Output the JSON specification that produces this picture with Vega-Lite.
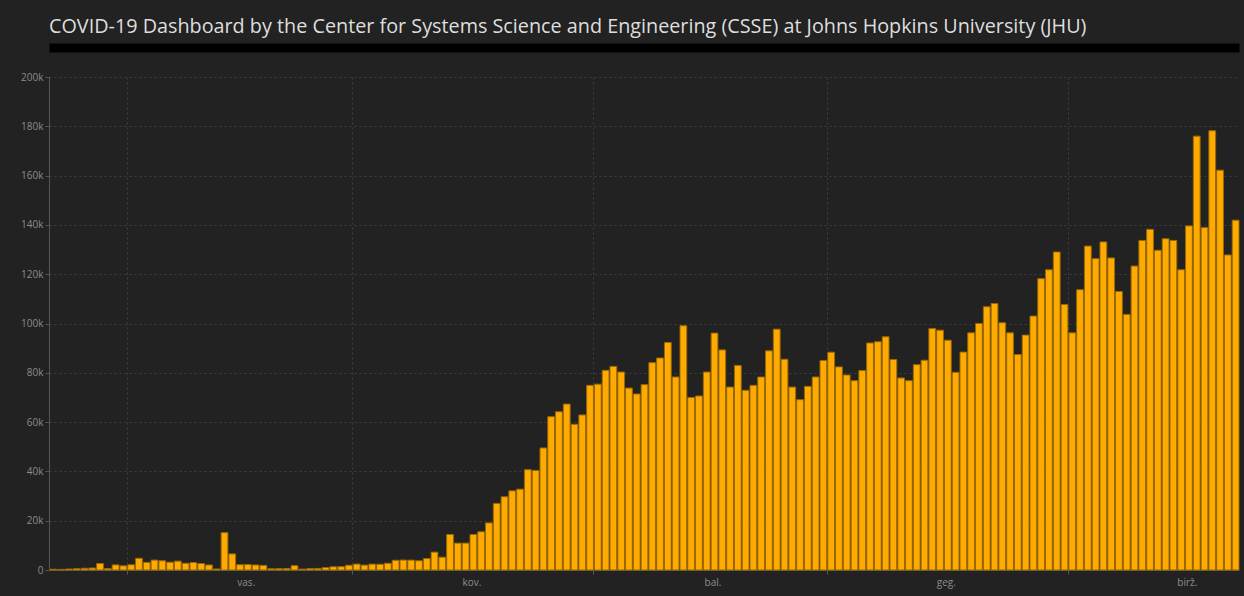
{
  "$schema": "https://vega.github.io/schema/vega-lite/v6.json",
  "width": 1190,
  "height": 493,
  "autosize": {"type": "none"},
  "padding": {"left": 49, "top": 77, "right": 5, "bottom": 26},
  "background": "#222222",
  "config": {"view": {"stroke": null}},
  "title": {
    "text": "COVID-19 Dashboard by the Center for Systems Science and Engineering (CSSE) at Johns Hopkins University (JHU)",
    "anchor": "start",
    "frame": "group",
    "font": "Open Sans",
    "fontSize": 19.8,
    "fontWeight": "normal",
    "color": "#dedede",
    "offset": 11
  },
  "data": {
    "values": [
      {"date": "2020-01-22", "cases": 300},
      {"date": "2020-01-23", "cases": 250},
      {"date": "2020-01-24", "cases": 400},
      {"date": "2020-01-25", "cases": 550},
      {"date": "2020-01-26", "cases": 700},
      {"date": "2020-01-27", "cases": 810},
      {"date": "2020-01-28", "cases": 2651},
      {"date": "2020-01-29", "cases": 600},
      {"date": "2020-01-30", "cases": 2068},
      {"date": "2020-01-31", "cases": 1693},
      {"date": "2020-02-01", "cases": 2111},
      {"date": "2020-02-02", "cases": 4749},
      {"date": "2020-02-03", "cases": 3094},
      {"date": "2020-02-04", "cases": 4011},
      {"date": "2020-02-05", "cases": 3743},
      {"date": "2020-02-06", "cases": 3159},
      {"date": "2020-02-07", "cases": 3597},
      {"date": "2020-02-08", "cases": 2729},
      {"date": "2020-02-09", "cases": 3030},
      {"date": "2020-02-10", "cases": 2612},
      {"date": "2020-02-11", "cases": 2040},
      {"date": "2020-02-12", "cases": 419},
      {"date": "2020-02-13", "cases": 15152},
      {"date": "2020-02-14", "cases": 6517},
      {"date": "2020-02-15", "cases": 2145},
      {"date": "2020-02-16", "cases": 2194},
      {"date": "2020-02-17", "cases": 2034},
      {"date": "2020-02-18", "cases": 1878},
      {"date": "2020-02-19", "cases": 503},
      {"date": "2020-02-20", "cases": 558},
      {"date": "2020-02-21", "cases": 621},
      {"date": "2020-02-22", "cases": 1752},
      {"date": "2020-02-23", "cases": 365},
      {"date": "2020-02-24", "cases": 570},
      {"date": "2020-02-25", "cases": 636},
      {"date": "2020-02-26", "cases": 1006},
      {"date": "2020-02-27", "cases": 1300},
      {"date": "2020-02-28", "cases": 1340},
      {"date": "2020-02-29", "cases": 1927},
      {"date": "2020-03-01", "cases": 2397},
      {"date": "2020-03-02", "cases": 1984},
      {"date": "2020-03-03", "cases": 2374},
      {"date": "2020-03-04", "cases": 2327},
      {"date": "2020-03-05", "cases": 2736},
      {"date": "2020-03-06", "cases": 3947},
      {"date": "2020-03-07", "cases": 4027},
      {"date": "2020-03-08", "cases": 3995},
      {"date": "2020-03-09", "cases": 3738},
      {"date": "2020-03-10", "cases": 4658},
      {"date": "2020-03-11", "cases": 7242},
      {"date": "2020-03-12", "cases": 5200},
      {"date": "2020-03-13", "cases": 14400},
      {"date": "2020-03-14", "cases": 10900},
      {"date": "2020-03-15", "cases": 10900},
      {"date": "2020-03-16", "cases": 14400},
      {"date": "2020-03-17", "cases": 15500},
      {"date": "2020-03-18", "cases": 19100},
      {"date": "2020-03-19", "cases": 27000},
      {"date": "2020-03-20", "cases": 29700},
      {"date": "2020-03-21", "cases": 32100},
      {"date": "2020-03-22", "cases": 32800},
      {"date": "2020-03-23", "cases": 40700},
      {"date": "2020-03-24", "cases": 40400},
      {"date": "2020-03-25", "cases": 49500},
      {"date": "2020-03-26", "cases": 62200},
      {"date": "2020-03-27", "cases": 64200},
      {"date": "2020-03-28", "cases": 67300},
      {"date": "2020-03-29", "cases": 59100},
      {"date": "2020-03-30", "cases": 62900},
      {"date": "2020-03-31", "cases": 74900},
      {"date": "2020-04-01", "cases": 75400},
      {"date": "2020-04-02", "cases": 81000},
      {"date": "2020-04-03", "cases": 82600},
      {"date": "2020-04-04", "cases": 80300},
      {"date": "2020-04-05", "cases": 73800},
      {"date": "2020-04-06", "cases": 71400},
      {"date": "2020-04-07", "cases": 75200},
      {"date": "2020-04-08", "cases": 84100},
      {"date": "2020-04-09", "cases": 86000},
      {"date": "2020-04-10", "cases": 92300},
      {"date": "2020-04-11", "cases": 78300},
      {"date": "2020-04-12", "cases": 99100},
      {"date": "2020-04-13", "cases": 70000},
      {"date": "2020-04-14", "cases": 70600},
      {"date": "2020-04-15", "cases": 80300},
      {"date": "2020-04-16", "cases": 96100},
      {"date": "2020-04-17", "cases": 89300},
      {"date": "2020-04-18", "cases": 74200},
      {"date": "2020-04-19", "cases": 83000},
      {"date": "2020-04-20", "cases": 72900},
      {"date": "2020-04-21", "cases": 74900},
      {"date": "2020-04-22", "cases": 78300},
      {"date": "2020-04-23", "cases": 88900},
      {"date": "2020-04-24", "cases": 97700},
      {"date": "2020-04-25", "cases": 85500},
      {"date": "2020-04-26", "cases": 74200},
      {"date": "2020-04-27", "cases": 69100},
      {"date": "2020-04-28", "cases": 74500},
      {"date": "2020-04-29", "cases": 78300},
      {"date": "2020-04-30", "cases": 85000},
      {"date": "2020-05-01", "cases": 88350},
      {"date": "2020-05-02", "cases": 82400},
      {"date": "2020-05-03", "cases": 79100},
      {"date": "2020-05-04", "cases": 76800},
      {"date": "2020-05-05", "cases": 80900},
      {"date": "2020-05-06", "cases": 92100},
      {"date": "2020-05-07", "cases": 92600},
      {"date": "2020-05-08", "cases": 94600},
      {"date": "2020-05-09", "cases": 85400},
      {"date": "2020-05-10", "cases": 77900},
      {"date": "2020-05-11", "cases": 76800},
      {"date": "2020-05-12", "cases": 83300},
      {"date": "2020-05-13", "cases": 85100},
      {"date": "2020-05-14", "cases": 98000},
      {"date": "2020-05-15", "cases": 97300},
      {"date": "2020-05-16", "cases": 93200},
      {"date": "2020-05-17", "cases": 80200},
      {"date": "2020-05-18", "cases": 88400},
      {"date": "2020-05-19", "cases": 96200},
      {"date": "2020-05-20", "cases": 100000},
      {"date": "2020-05-21", "cases": 106800},
      {"date": "2020-05-22", "cases": 108100},
      {"date": "2020-05-23", "cases": 100300},
      {"date": "2020-05-24", "cases": 96200},
      {"date": "2020-05-25", "cases": 87400},
      {"date": "2020-05-26", "cases": 95300},
      {"date": "2020-05-27", "cases": 103000},
      {"date": "2020-05-28", "cases": 118200},
      {"date": "2020-05-29", "cases": 121800},
      {"date": "2020-05-30", "cases": 129000},
      {"date": "2020-05-31", "cases": 107700},
      {"date": "2020-06-01", "cases": 96200},
      {"date": "2020-06-02", "cases": 113700},
      {"date": "2020-06-03", "cases": 131400},
      {"date": "2020-06-04", "cases": 126300},
      {"date": "2020-06-05", "cases": 133100},
      {"date": "2020-06-06", "cases": 126600},
      {"date": "2020-06-07", "cases": 113000},
      {"date": "2020-06-08", "cases": 103700},
      {"date": "2020-06-09", "cases": 123300},
      {"date": "2020-06-10", "cases": 133700},
      {"date": "2020-06-11", "cases": 138200},
      {"date": "2020-06-12", "cases": 129700},
      {"date": "2020-06-13", "cases": 134400},
      {"date": "2020-06-14", "cases": 133700},
      {"date": "2020-06-15", "cases": 121800},
      {"date": "2020-06-16", "cases": 139600},
      {"date": "2020-06-17", "cases": 176000},
      {"date": "2020-06-18", "cases": 138900},
      {"date": "2020-06-19", "cases": 178200},
      {"date": "2020-06-20", "cases": 162200},
      {"date": "2020-06-21", "cases": 127800},
      {"date": "2020-06-22", "cases": 141900}
    ]
  },
  "layer": [
    {
      "mark": {"type": "bar", "fill": "#ffaa00", "stroke": "#9a6a00", "strokeWidth": 1},
      "encoding": {
        "x": {
          "field": "date",
          "timeUnit": "utcyearmonthdate",
          "type": "temporal",
          "scale": {
            "domain": [
              {"year": 2020, "month": 1, "date": 22, "utc": true},
              {"year": 2020, "month": 6, "date": 23, "utc": true}
            ],
            "nice": false
          },
          "axis": {
            "orient": "bottom",
            "title": null,
            "tickCount": {"interval": "month", "step": 1},
            "labelExpr": "['saus.','vas.','kov.','bal.','geg.','birž.','liep.'][utcmonth(datum.value)]",
            "labelOffset": 119,
            "labelOverlap": false,
            "labelBound": false,
            "labelFlush": false,
            "labelColor": "#8c8c8c",
            "labelFont": "Open Sans",
            "labelFontSize": 10,
            "labelPadding": 3,
            "tickColor": "#555555",
            "tickSize": 4,
            "domainColor": "#555555",
            "grid": true,
            "gridColor": "#3f3f3f",
            "gridDash": [2, 3]
          }
        },
        "y": {
          "field": "cases",
          "type": "quantitative",
          "scale": {"domain": [0, 200000], "nice": false},
          "axis": {
            "title": null,
            "values": [0, 20000, 40000, 60000, 80000, 100000, 120000, 140000, 160000, 180000, 200000],
            "labelExpr": "datum.value == 0 ? '0' : (datum.value / 1000) + 'k'",
            "labelColor": "#8c8c8c",
            "labelFont": "Open Sans",
            "labelFontSize": 10,
            "labelPadding": 2,
            "tickColor": "#555555",
            "tickSize": 4,
            "domainColor": "#555555",
            "grid": true,
            "gridColor": "#3f3f3f",
            "gridDash": [2, 3]
          }
        }
      }
    },
    {
      "mark": {"type": "rule", "strokeOpacity": 0},
      "encoding": {
        "x": {
          "field": "date",
          "timeUnit": "utcyearmonthdate",
          "type": "temporal",
          "axis": {
            "orient": "top",
            "title": null,
            "labels": false,
            "ticks": false,
            "grid": false,
            "domainColor": "#000000",
            "domainWidth": 9,
            "offset": 29.5
          }
        }
      }
    }
  ],
  "resolve": {"axis": {"x": "independent"}}
}
